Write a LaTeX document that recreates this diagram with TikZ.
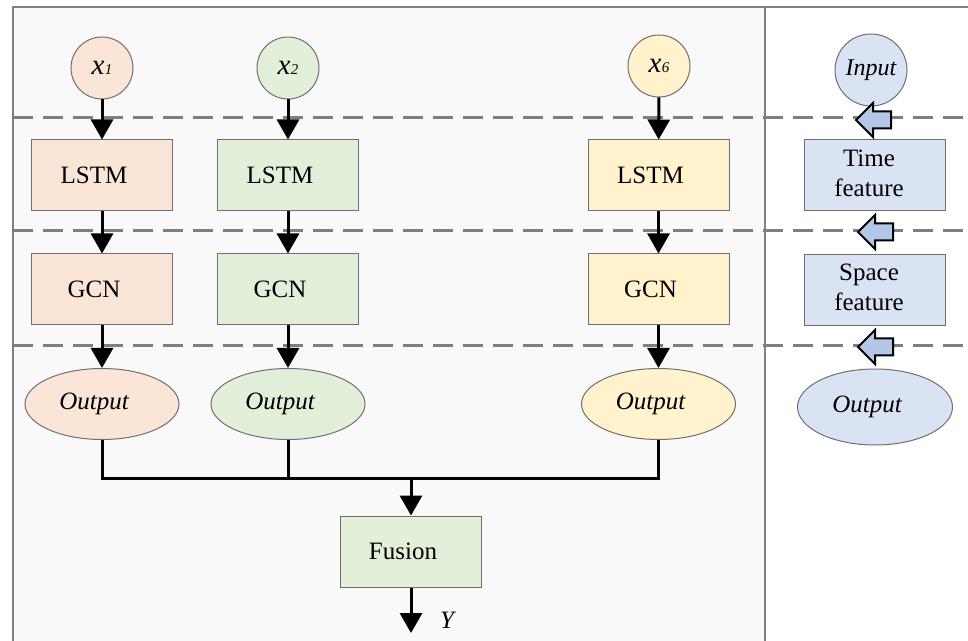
\documentclass[tikz,border=0pt]{standalone}
\usepackage{fontspec}
\setmainfont{Liberation Serif}
\usetikzlibrary{arrows.meta,shapes.geometric}
\definecolor{panelgray}{HTML}{F9F9F9}
\definecolor{framegray}{HTML}{808080}
\definecolor{dashgray}{HTML}{7F7F7F}
\definecolor{corange}{HTML}{FBE5D6}
\definecolor{cgreen}{HTML}{E2F0D9}
\definecolor{cyellow}{HTML}{FFF2CC}
\definecolor{cblue}{HTML}{DAE3F3}
\definecolor{arrowblue}{HTML}{B4C7E7}
\definecolor{edgegray}{HTML}{6F6F6F}
\newcommand{\lsh}[1]{\kern-8pt\raisebox{-0.8pt}{#1}}
\newcommand{\twoline}[2]{\kern-6pt\begin{tabular}{@{}c@{}}#1\\#2\end{tabular}}
\newcommand{\xlab}[1]{\raisebox{-1pt}{{\fontsize{14.5pt}{16pt}\selectfont\itshape x}\kern0.3pt{\fontsize{7.5pt}{9pt}\selectfont\itshape #1}}}
\begin{document}
\begin{tikzpicture}[x=0.5pt,y=-0.5pt,
  font=\fontsize{12.5pt}{15pt}\selectfont,
  frame/.style={draw=framegray,line width=0.8pt},
  dashline/.style={draw=dashgray,line width=1.5pt,dash pattern=on 10pt off 5pt},
  boxnode/.style={draw=edgegray,line width=0.5pt,minimum width=70.5pt,minimum height=35.5pt,inner sep=0pt},
  innode/.style={circle,draw=edgegray,line width=0.5pt,minimum size=31pt,inner sep=0pt},
  outnode/.style={ellipse,draw=edgegray,line width=0.5pt,minimum width=77pt,minimum height=35.5pt,inner sep=0pt,font=\fontsize{12.5pt}{15pt}\selectfont\itshape},
  arr/.style={line width=1.5pt,-{Triangle[length=10pt,width=11pt]}},
  wire/.style={line width=1.5pt},
  larrow/.pic={\draw[fill=arrowblue,line width=1pt,line join=miter] (0,0) -- (17,-17) -- (17,-8.5) -- (35,-8.5) -- (35,8.5) -- (17,8.5) -- (17,17) -- cycle;}
]
\useasboundingbox (0,0) rectangle (968,641);
% panels
\fill[panelgray] (13,7) rectangle (765,641);
\draw[frame] (13,641) -- (13,7) -- (968,7);
\draw[frame] (765,7) -- (765,641);
% dashed separators
\foreach \yy in {118,231,346} \draw[dashline] (13,\yy) -- (968,\yy);

% column 1
\node[innode,fill=corange] (x1) at (102,68) {\xlab{1}};
\node[boxnode,fill=corange] (l1) at (102,175.5) {\lsh{LSTM}};
\node[boxnode,fill=corange] (g1) at (102,289.5) {\lsh{GCN}};
\node[outnode,fill=corange] (o1) at (102,404) {\lsh{Output}};
% column 2
\node[innode,fill=cgreen] (x2) at (288,68) {\xlab{2}};
\node[boxnode,fill=cgreen] (l2) at (288,175.5) {\lsh{LSTM}};
\node[boxnode,fill=cgreen] (g2) at (288,289.5) {\lsh{GCN}};
\node[outnode,fill=cgreen] (o2) at (288,404) {\lsh{Output}};
% column 3
\node[innode,fill=cyellow] (x6) at (659,66) {\xlab{6}};
\node[boxnode,fill=cyellow] (l6) at (658.5,175.5) {\lsh{LSTM}};
\node[boxnode,fill=cyellow] (g6) at (658.5,289.5) {\lsh{GCN}};
\node[outnode,fill=cyellow] (o6) at (658.5,404) {\lsh{Output}};

\foreach \c in {1,2,6} {
  \draw[arr] (x\c) -- (l\c);
  \draw[arr] (l\c) -- (g\c);
  \draw[arr] (g\c) -- (o\c);
}

% fusion
\node[boxnode,fill=cgreen] (fus) at (411,551.5) {\lsh{Fusion}};
\coordinate (bus) at (411,478);
\coordinate (yend) at (411,633);
\draw[wire] (o1.south) |- (bus);
\draw[wire] (o6.south) |- (bus);
\draw[wire] (o2.south) -- (o2.south |- bus);
\draw[arr] (bus) -- (fus.north);
\draw[arr] (fus.south) -- (yend);
\node[font=\fontsize{12.5pt}{15pt}\selectfont\itshape] (ylab) at (447,620) {Y};

% right legend column
\node[innode,fill=cblue,minimum size=36pt,font=\fontsize{12pt}{14pt}\selectfont\itshape] (inp) at (871,70) {Input};
\node[boxnode,fill=cblue] (tf) at (875,175.5) {\twoline{Time}{feature}};
\node[boxnode,fill=cblue] (sf) at (875,290) {\twoline{Space}{feature}};
\node[outnode,fill=cblue,minimum width=77.5pt,minimum height=38pt] (ro) at (875,407) {\lsh{Output}};

\pic at (856,120) {larrow};
\pic at (858,232) {larrow};
\pic at (858,347) {larrow};
\end{tikzpicture}
\end{document}
